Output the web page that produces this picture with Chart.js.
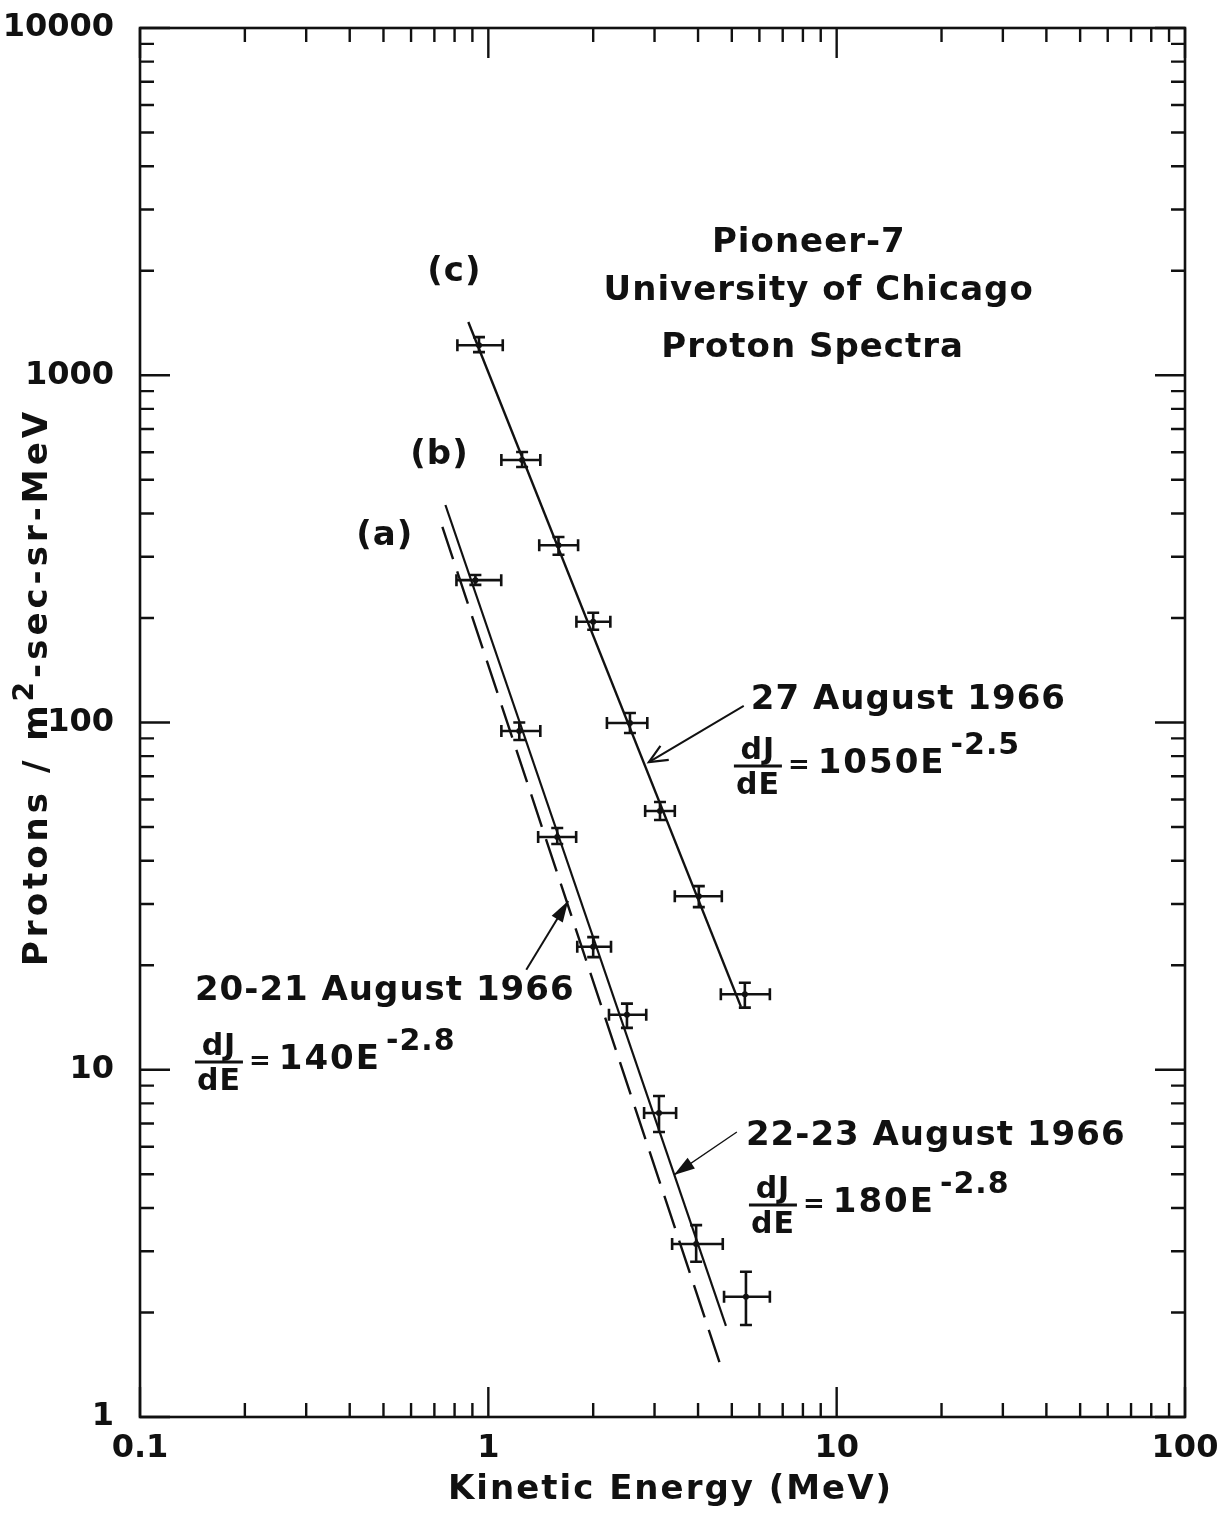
<!DOCTYPE html>
<html>
<head>
<meta charset="utf-8">
<script src="https://cdn.jsdelivr.net/npm/chart.js@4.4.1/dist/chart.umd.min.js"></script>
<style>
  html, body { margin: 0; padding: 0; background: #fff; }
  canvas { display: block; }
</style>
</head>
<body>
<canvas id="spectra" width="1224" height="1513"></canvas>
<script>
/* ---- data ---- */
// (c) 27 August 1966
const E_C    = [0.94, 1.25, 1.59, 2.00, 2.55, 3.11, 4.02, 5.45];
const J_C    = [1220, 570, 324, 195, 99.7, 55.6, 31.6, 16.5];
const E_C_LO = [0.815, 1.09, 1.40, 1.79, 2.19, 2.82, 3.43, 4.65];
const E_C_HI = [1.10, 1.41, 1.81, 2.24, 2.86, 3.43, 4.68, 6.43];
const J_C_LO = [1166, 544, 304, 185, 93.3, 52.4, 29.4, 15.1];
const J_C_HI = [1288, 601, 342, 207, 106.5, 59.0, 33.8, 17.8];
// (a)/(b) 20-23 August 1966
const E_AB    = [0.918, 1.227, 1.577, 2.00, 2.50, 3.09, 3.95, 5.49];
const J_AB    = [257, 94.5, 46.8, 22.6, 14.4, 7.51, 3.15, 2.22];
const E_AB_LO = [0.810, 1.09, 1.39, 1.80, 2.22, 2.80, 3.37, 4.75];
const E_AB_HI = [1.089, 1.41, 1.787, 2.25, 2.84, 3.46, 4.71, 6.43];
const J_AB_LO = [249, 89, 44.7, 21.1, 13.2, 6.62, 2.80, 1.84];
const J_AB_HI = [266, 100, 49.7, 24.1, 15.5, 8.40, 3.57, 2.62];
// fitted power laws (end points of the drawn lines)
const FIT_C_E = [0.876, 5.31], FIT_C_J = [1423, 15.2];
const FIT_B_E = [0.753, 4.81], FIT_B_J = [423, 1.83];
const FIT_A_E = [0.738, 4.65], FIT_A_J = [366, 1.40];

/* ---- axes ---- */
const X_MAJOR  = [0.1, 1, 10, 100];
const X_LABELS = ['0.1', '1', '10', '100'];
const Y_MAJOR  = [1, 10, 100, 1000, 10000];
const Y_LABELS = ['1', '10', '100', '1000', '10000'];
const MINOR    = [2, 3, 4, 5, 6, 7, 8, 9];

/* ---- annotations, in data units ---- */
const NOTES = [
  {t: 'Pioneer-7',             e: 8.32,   j: 2400,  align: 'center'},
  {t: 'University of Chicago', e: 8.88,   j: 1748,  align: 'center'},
  {t: 'Proton Spectra',        e: 8.53,   j: 1198,  align: 'center'},
  {t: '(c)',                   e: 0.799,  j: 1983,  align: 'center'},
  {t: '(b)',                   e: 0.724,  j: 589,   align: 'center'},
  {t: '(a)',                   e: 0.504,  j: 344,   align: 'center'},
  {t: '27 August 1966',        e: 5.67,   j: 116,   align: 'left'},
  {t: '20-21 August 1966',     e: 0.1438, j: 16.86, align: 'left'},
  {t: '22-23 August 1966',     e: 5.49,   j: 6.45,  align: 'left'}
];
const LAWS = [
  {k: '1050', p: '-2.5', e: 5.07,   j: 74.9},
  {k: '140',  p: '-2.8', e: 0.1438, j: 10.53},
  {k: '180',  p: '-2.8', e: 5.60,   j: 4.08}
];
const ARROWS = [
  {e0: 5.41,  j0: 111.6, e1: 2.89,  j1: 76.9, open: true,  w: 2},
  {e0: 1.285, j0: 19.4,  e1: 1.695, j1: 30.6, open: false, w: 2},
  {e0: 5.17,  j0: 6.62,  e1: 3.41,  j1: 4.98, open: false, w: 1.3}
];

const INK = '#111';
const FONT = '"DejaVu Sans", sans-serif';

const decades = (majors) => {
  const out = [];
  majors.forEach((m, i) => {
    out.push(m);
    if (i < majors.length - 1) MINOR.forEach(k => out.push(+(m * k).toPrecision(6)));
  });
  return out;
};
const X_TICKS = decades(X_MAJOR), Y_TICKS = decades(Y_MAJOR);

const pairs = (xs, ys) => xs.map((v, i) => ({x: v, y: ys[i]}));
const fitLine = (xs, ys, dash, w) => ({data: pairs(xs, ys), showLine: true, borderColor: INK,
  borderWidth: w, borderDash: dash, pointRadius: 0, backgroundColor: INK});
const pointSet = (xs, ys) => ({data: pairs(xs, ys), pointRadius: 3, pointStyle: 'circle',
  backgroundColor: INK, borderColor: INK, borderWidth: 0});

const ERRS = [
  {e: E_C, j: J_C, eLo: E_C_LO, eHi: E_C_HI, jLo: J_C_LO, jHi: J_C_HI},
  {e: E_AB, j: J_AB, eLo: E_AB_LO, eHi: E_AB_HI, jLo: J_AB_LO, jHi: J_AB_HI}
];

function say(ctx, s, px, py, size, align, spacing){
  ctx.font = `bold ${size}px ${FONT}`;
  if ('letterSpacing' in ctx) ctx.letterSpacing = (spacing || 0) + 'px';
  ctx.textAlign = align || 'left';
  ctx.textBaseline = 'middle';
  ctx.fillText(s, px, py);
  return ctx.measureText(s).width;
}

function arrow(ctx, a, x, y){
  const x0 = x.getPixelForValue(a.e0), y0 = y.getPixelForValue(a.j0);
  const x1 = x.getPixelForValue(a.e1), y1 = y.getPixelForValue(a.j1);
  const ang = Math.atan2(y1 - y0, x1 - x0);
  ctx.lineWidth = a.w;
  ctx.beginPath(); ctx.moveTo(x0, y0); ctx.lineTo(x1, y1); ctx.stroke();
  const L = a.open ? 20 : 22, s = a.open ? 0.42 : 0.3;
  const p1 = [x1 - L * Math.cos(ang - s), y1 - L * Math.sin(ang - s)];
  const p2 = [x1 - L * Math.cos(ang + s), y1 - L * Math.sin(ang + s)];
  ctx.beginPath();
  if (a.open){
    ctx.lineWidth = 2.2;
    ctx.moveTo(p1[0], p1[1]); ctx.lineTo(x1, y1); ctx.lineTo(p2[0], p2[1]); ctx.stroke();
  } else {
    ctx.moveTo(x1, y1); ctx.lineTo(p1[0], p1[1]); ctx.lineTo(p2[0], p2[1]); ctx.closePath(); ctx.fill();
  }
}

const deco = {
  id: 'deco',
  afterDatasetsDraw(ch){
    const {ctx, scales: {x, y}} = ch;
    ctx.save();
    ctx.strokeStyle = INK; ctx.lineWidth = 2.6;
    ERRS.forEach(s => s.e.forEach((e, i) => {
      const px = x.getPixelForValue(e), py = y.getPixelForValue(s.j[i]);
      const x0 = x.getPixelForValue(s.eLo[i]), x1 = x.getPixelForValue(s.eHi[i]);
      const y0 = y.getPixelForValue(s.jLo[i]), y1 = y.getPixelForValue(s.jHi[i]);
      ctx.beginPath();
      ctx.moveTo(x0, py); ctx.lineTo(x1, py);
      ctx.moveTo(px, y0); ctx.lineTo(px, y1);
      ctx.moveTo(x0, py - 6); ctx.lineTo(x0, py + 6);
      ctx.moveTo(x1, py - 6); ctx.lineTo(x1, py + 6);
      ctx.moveTo(px - 6, y0); ctx.lineTo(px + 6, y0);
      ctx.moveTo(px - 6, y1); ctx.lineTo(px + 6, y1);
      ctx.stroke();
    }));
    ctx.restore();
  },
  afterDraw(ch){
    const {ctx, chartArea: a, scales: {x, y}} = ch;
    ctx.save();
    ctx.strokeStyle = INK; ctx.fillStyle = INK;
    // frame
    ctx.lineWidth = 2.6;
    ctx.strokeRect(a.left, a.top, a.right - a.left, a.bottom - a.top);
    // inward ticks on all four sides
    ctx.lineWidth = 2.4;
    ctx.beginPath();
    X_TICKS.forEach(v => {
      const px = x.getPixelForValue(v), L = X_MAJOR.includes(v) ? 30 : 14;
      ctx.moveTo(px, a.bottom); ctx.lineTo(px, a.bottom - L);
      ctx.moveTo(px, a.top); ctx.lineTo(px, a.top + L);
    });
    Y_TICKS.forEach(v => {
      const py = y.getPixelForValue(v), L = Y_MAJOR.includes(v) ? 30 : 14;
      ctx.moveTo(a.left, py); ctx.lineTo(a.left + L, py);
      ctx.moveTo(a.right, py); ctx.lineTo(a.right - L, py);
    });
    ctx.stroke();

    // axis titles
    say(ctx, 'Kinetic Energy (MeV)', (a.left + a.right) / 2 + 8, a.bottom + 73, 34, 'center', 2);
    ctx.save();
    ctx.translate(38, 687); ctx.rotate(-Math.PI / 2);
    const parts = [['Protons / m', 34, 0], ['2', 28, -12], ['-sec-sr-MeV', 34, 0]];
    if ('letterSpacing' in ctx) ctx.letterSpacing = '4px';
    let tot = 0;
    parts.forEach(p => { ctx.font = `bold ${p[1]}px ${FONT}`; tot += ctx.measureText(p[0]).width; });
    let cx = -tot / 2;
    parts.forEach(p => { cx += say(ctx, p[0], cx, p[2], p[1], 'left', 4); });
    ctx.restore();

    // labels
    NOTES.forEach(n => say(ctx, n.t, x.getPixelForValue(n.e), y.getPixelForValue(n.j), 34, n.align, 1));
    // dJ/dE = k E^p
    LAWS.forEach(f => {
      const px = x.getPixelForValue(f.e), py = y.getPixelForValue(f.j);
      ctx.lineWidth = 3;
      ctx.beginPath(); ctx.moveTo(px, py); ctx.lineTo(px + 48, py); ctx.stroke();
      say(ctx, 'dJ', px + 24, py - 15, 30, 'center', 1);
      say(ctx, 'dE', px + 24, py + 20, 30, 'center', 1);
      let cx = px + 54;
      cx += say(ctx, '=', cx, py, 26, 'left', 0) + 8;
      cx += say(ctx, f.k + 'E', cx, py - 2, 34, 'left', 2) + 5;
      say(ctx, f.p, cx, py - 20, 30, 'left', 1);
    });
    // arrows
    ARROWS.forEach(ar => arrow(ctx, ar, x, y));
    ctx.restore();
  }
};

const tickFont = {family: FONT, size: 32, weight: 'bold'};

new Chart(document.getElementById('spectra'), {
  type: 'scatter',
  data: {datasets: [
    fitLine(FIT_C_E, FIT_C_J, [], 2.4),
    fitLine(FIT_B_E, FIT_B_J, [], 2.2),
    fitLine(FIT_A_E, FIT_A_J, [34, 13], 2.4),
    pointSet(E_C, J_C),
    pointSet(E_AB, J_AB)
  ]},
  options: {
    responsive: false,
    animation: false,
    events: [],
    layout: {padding: {top: 28, right: 39, left: 0, bottom: 0}},
    plugins: {legend: {display: false}, tooltip: {enabled: false}},
    scales: {
      x: {
        type: 'logarithmic', position: 'bottom', min: 0.1, max: 100,
        afterBuildTicks: s => { s.ticks = X_TICKS.map(v => ({value: v})); },
        afterFit: s => { s.height = 96; s.paddingLeft = 0; s.paddingRight = 0; },
        grid: {display: false}, border: {display: false},
        ticks: {autoSkip: false, maxRotation: 0, padding: 4, color: INK, font: tickFont,
          callback: v => { const i = X_MAJOR.indexOf(v); return i < 0 ? '' : X_LABELS[i]; }}
      },
      y: {
        type: 'logarithmic', position: 'left', min: 1, max: 10000,
        afterBuildTicks: s => { s.ticks = Y_TICKS.map(v => ({value: v})); },
        afterFit: s => { s.width = 140; s.paddingTop = 0; s.paddingBottom = 0; },
        grid: {display: false}, border: {display: false},
        ticks: {autoSkip: false, padding: 18, color: INK, font: tickFont,
          callback: v => { const i = Y_MAJOR.indexOf(v); return i < 0 ? '' : Y_LABELS[i]; }}
      }
    }
  },
  plugins: [deco]
});
</script>
</body>
</html>
